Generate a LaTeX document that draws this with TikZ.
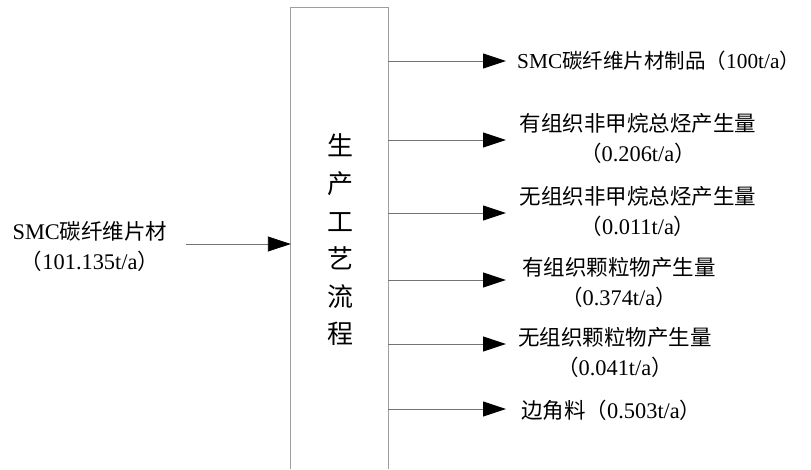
\documentclass[tikz,border=0pt]{standalone}
\usepackage{fontspec}
\setmainfont[Scale=1.04]{Liberation Serif}
\newfontfamily\cjk{Noto Sans CJK SC}
\newcommand\zh[1]{{\cjk #1}}
\usetikzlibrary{arrows.meta}
\begin{document}
\begin{tikzpicture}[x=1pt,y=-1pt,
  boxline/.style={draw=black!38,line width=1.3pt},
  arr/.style={draw=black!55,line width=0.9pt,-{Triangle[length=23pt,width=15pt,fill=black,color=black]}},
  lab/.style={inner sep=0pt,font=\fontsize{21.5}{30}\selectfont,align=center},
  ptext/.style={inner sep=0pt,font=\fontsize{26}{37.6}\selectfont\cjk,align=center}]
\useasboundingbox (0,0) rectangle (811,469);
% process box (open at bottom)
\node[minimum width=97pt,minimum height=461pt,inner sep=0pt] (proc) at (339.5,238.5) {};
\node[ptext] (ptxt) at (340,240) {生\\产\\工\\艺\\流\\程};
\draw[boxline] (proc.south west) -- (proc.north west) -- (proc.north east) -- (proc.south east);
% input
\coordinate (in) at (186,244);
\node[lab] (inlab) at (90,246) {SMC\zh{碳纤维片材}\\\zh{（}101.135t/a\zh{）}};
\draw[arr] (in) -- (proc.west |- in);
% outputs
\coordinate (t1) at (506,61);
\coordinate (t2) at (506,140);
\coordinate (t3) at (506,213);
\coordinate (t4) at (506,280);
\coordinate (t5) at (506,344);
\coordinate (t6) at (506,409);
\foreach \i in {1,...,6} {\draw[arr] (proc.east |- t\i) -- (t\i);}
\node[lab,anchor=west,font=\fontsize{20.5}{30}\selectfont] (o1) at (517,61) {SMC\zh{碳纤维片材制品（}100t/a\zh{）}};
\node[lab] (o2) at (638,138) {\zh{有组织非甲烷总烃产生量}\\\zh{（}0.206t/a\zh{）}};
\node[lab] (o3) at (638,211) {\zh{无组织非甲烷总烃产生量}\\\zh{（}0.011t/a\zh{）}};
\node[lab] (o4) at (619,282) {\zh{有组织颗粒物产生量}\\\zh{（}0.374t/a\zh{）}};
\node[lab] (o5) at (615,352) {\zh{无组织颗粒物产生量}\\\zh{（}0.041t/a\zh{）}};
\node[lab,anchor=west] (o6) at (521,410) {\zh{边角料（}0.503t/a\zh{）}};
\end{tikzpicture}
\end{document}
